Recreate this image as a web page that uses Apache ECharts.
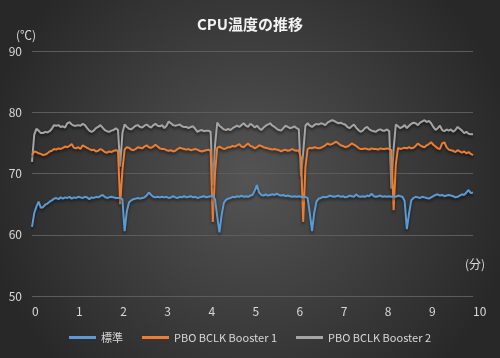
<!DOCTYPE html>
<html><head><meta charset="utf-8">
<script src="https://cdn.jsdelivr.net/npm/echarts@6/dist/echarts.min.js"></script>
<style>html,body{margin:0;padding:0;background:#333}#c{width:500px;height:358px}</style>
</head><body><div id="c"></div>
<script>
// sample step: 0.05 min (3 s)
const STEP = 0.05;
const seriesNames = ['標準', 'PBO BCLK Booster 1', 'PBO BCLK Booster 2'];
const xTicks = [0,1,2,3,4,5,6,7,8,9,10];
const standard = [
61.3,63.5,64.6,65.4,64.4,64.5,64.9,65.1,65.4,65.6,
65.9,66.0,65.8,66.1,65.9,66.1,66.0,66.2,65.9,66.1,
66.0,66.2,66.1,66.0,66.2,66.1,65.8,66.1,66.0,66.2,
66.1,66.3,66.5,66.2,66.0,66.1,66.2,66.1,66.0,66.0,
66.0,65.8,60.6,63.8,65.3,65.6,65.8,65.9,66.0,65.9,
66.0,66.1,66.4,66.9,66.5,66.2,66.1,66.2,66.1,66.2,
66.1,66.2,66.0,66.1,66.3,66.1,66.0,66.2,66.1,66.3,
66.1,66.2,66.3,66.1,66.2,66.0,66.1,66.2,66.3,66.1,
66.2,66.3,66.4,65.8,63.0,60.4,63.2,65.2,65.7,65.9,
66.0,66.2,66.1,66.3,66.2,66.4,66.2,66.3,66.2,66.4,
66.5,67.2,68.1,66.9,66.5,66.4,66.6,66.4,66.5,66.6,
66.5,66.7,66.5,66.4,66.5,66.3,66.4,66.3,66.2,66.3,
66.2,66.3,66.2,66.1,66.2,66.0,63.5,60.6,63.6,65.4,
65.9,66.0,66.2,66.1,66.2,66.4,66.3,66.2,66.3,66.4,
66.2,66.3,66.1,66.2,66.4,66.3,66.2,66.6,66.3,66.2,
66.3,66.2,66.4,66.3,66.7,66.3,66.2,66.3,66.4,66.2,
66.3,66.2,66.3,66.2,66.3,66.2,66.4,66.3,66.2,65.5,
60.9,63.5,65.6,66.0,66.2,66.1,66.0,66.2,66.1,66.0,
65.9,66.1,66.3,66.5,66.6,66.4,66.5,66.3,66.4,66.5,
66.4,66.3,66.1,66.2,66.4,66.6,66.5,66.9,67.3,66.8,66.9
];
const booster1 = [
73.0,73.6,73.5,73.3,73.2,73.0,73.1,73.3,73.6,73.7,
74.0,73.9,74.1,74.0,74.2,74.4,74.3,74.5,74.8,74.2,
74.1,74.3,74.0,74.6,74.4,74.2,74.0,73.8,73.9,73.6,
73.7,74.0,73.8,73.5,73.4,73.6,73.5,73.7,73.8,73.7,
65.0,70.5,73.9,74.3,74.2,73.9,73.8,74.0,74.3,74.2,
74.1,74.4,74.6,74.3,74.2,74.4,74.7,74.4,74.1,74.0,
74.0,73.8,73.7,73.8,73.6,73.7,74.0,74.2,74.1,74.0,
73.9,74.0,73.8,73.9,74.0,73.9,73.7,73.6,73.7,73.8,
73.9,73.7,62.1,70.0,74.2,74.4,74.2,74.0,74.1,74.3,
74.3,74.5,74.4,74.6,74.8,74.4,74.3,74.6,74.9,74.5,
74.4,74.1,74.3,74.6,74.5,74.3,74.2,74.1,74.0,73.9,
74.0,73.9,73.8,73.6,73.8,73.9,73.7,73.8,74.0,73.8,
73.7,73.8,72.5,62.1,71.0,74.0,74.2,74.1,74.3,74.2,
74.1,74.2,74.4,74.6,74.9,74.7,74.8,75.0,75.2,74.9,
74.6,74.5,74.3,74.4,74.6,74.9,74.7,74.5,74.2,74.0,
74.0,74.1,74.0,73.9,74.1,74.0,74.0,73.9,74.1,74.0,
74.0,74.1,74.0,73.8,64.0,71.5,74.2,74.0,74.1,74.2,
74.1,74.3,74.1,74.2,74.5,74.9,74.6,74.4,74.3,74.6,
74.8,75.1,74.7,74.4,74.1,74.0,74.9,75.1,74.3,73.9,
73.8,73.7,73.5,73.8,73.6,73.4,73.6,73.3,73.5,73.2,73.0
];
const booster2 = [
71.9,76.3,77.3,77.0,76.6,76.6,76.8,76.7,76.9,77.3,
77.9,77.8,77.9,77.6,77.7,77.5,78.2,78.4,78.0,77.8,
77.8,77.9,77.8,78.1,77.9,77.4,77.0,76.8,77.0,77.4,
77.6,77.9,77.5,77.1,76.9,76.8,77.0,77.1,77.4,77.1,
71.1,76.6,78.0,77.6,77.3,77.2,77.5,77.8,77.9,77.6,
77.5,77.8,78.0,77.7,77.5,77.9,78.1,77.8,77.7,77.9,
77.4,77.8,78.5,78.2,77.9,77.8,77.9,78.0,77.7,77.6,
77.6,77.4,77.6,77.7,77.3,76.8,77.0,77.1,76.9,77.0,
77.0,76.8,68.1,74.5,78.3,77.8,77.5,77.2,77.1,77.3,
77.1,77.4,77.6,77.8,77.6,77.9,78.2,77.8,77.6,78.1,
77.9,77.5,77.8,77.4,77.1,77.5,77.8,78.0,78.2,77.8,
77.6,77.3,77.1,77.0,77.4,77.8,77.6,77.4,77.5,77.7,
77.4,77.2,69.5,73.5,77.8,78.2,77.8,77.6,77.9,78.1,
78.0,78.2,78.1,77.9,78.3,78.5,78.7,78.6,78.4,78.2,
78.3,78.1,78.0,77.6,77.4,77.7,78.0,77.5,77.1,76.8,
77.0,77.4,77.6,77.2,77.0,76.9,76.8,77.1,77.2,77.0,
77.0,77.2,76.9,67.5,74.0,78.0,77.7,77.4,77.6,77.9,
77.4,77.8,78.1,78.3,78.2,77.9,78.3,78.5,78.7,78.4,
78.6,78.2,77.6,77.1,77.4,77.8,77.1,76.9,77.2,77.0,
77.2,76.8,77.1,77.6,77.3,77.0,76.6,76.8,76.5,76.4,76.4
];
const colors = ['#5B9BD5', '#ED7D31', '#A5A5A5'];

function pairs(arr){ return arr.map((v,i)=>[+(i*STEP).toFixed(2), v]); }

const FONT = '"Noto Sans CJK JP", "Noto Sans", sans-serif';
const chart = echarts.init(document.getElementById('c'), null, {renderer:'canvas'});
const lineSeries = [standard, booster1, booster2].map((arr, k) => ({
  name: seriesNames[k], type: 'line', data: pairs(arr), showSymbol: false, symbol: 'none',
  smooth: false, animation: false,
  lineStyle: {color: colors[k], width: 2, shadowColor: 'rgba(0,0,0,0.55)', shadowBlur: 3, shadowOffsetY: 2},
  itemStyle: {color: colors[k]}, z: 3 - k
}));
chart.setOption({
  animation: false,
  backgroundColor: {type:'radial', x:0.5, y:0.5, r:0.75, colorStops:[{offset:0,color:'#545454'},{offset:1,color:'#282828'}]},
  title: {text: 'CPU温度の推移', left: 'center', top: 12,
    textStyle: {color:'#f2f2f2', fontSize: 15, fontWeight: 'bold', fontFamily: FONT}},
  grid: {left: 32, right: 27, top: 51, bottom: 62},
  xAxis: {type:'value', min: xTicks[0], max: xTicks[xTicks.length-1], interval: 1,
    axisLine:{show:false}, axisTick:{show:false}, splitLine:{show:false},
    axisLabel:{color:'#d9d9d9', fontSize: 12, fontFamily: FONT, align:'left', margin: 9}},
  yAxis: {type:'value', min: 50, max: 90, interval: 10,
    axisLine:{show:false}, axisTick:{show:false},
    splitLine:{show:true, lineStyle:{color:'#5c5c5c', width:1}},
    axisLabel:{color:'#d9d9d9', fontSize: 12, fontFamily: FONT, margin: 10}},
  legend: {bottom: 10, left: 'center', itemWidth: 27, itemHeight: 3, itemGap: 19, icon: 'rect',
    textStyle:{color:'#d9d9d9', fontSize: 11, fontFamily: FONT},
    data: seriesNames},
  graphic: [
    {type:'text', left: 16, top: 29, style:{text:'(℃)', fill:'#d9d9d9', font: '12px ' + FONT}},
    {type:'text', left: 465, top: 258, style:{text:'(分)', fill:'#d9d9d9', font: '12px ' + FONT}}
  ],
  series: lineSeries
});
</script></body></html>
